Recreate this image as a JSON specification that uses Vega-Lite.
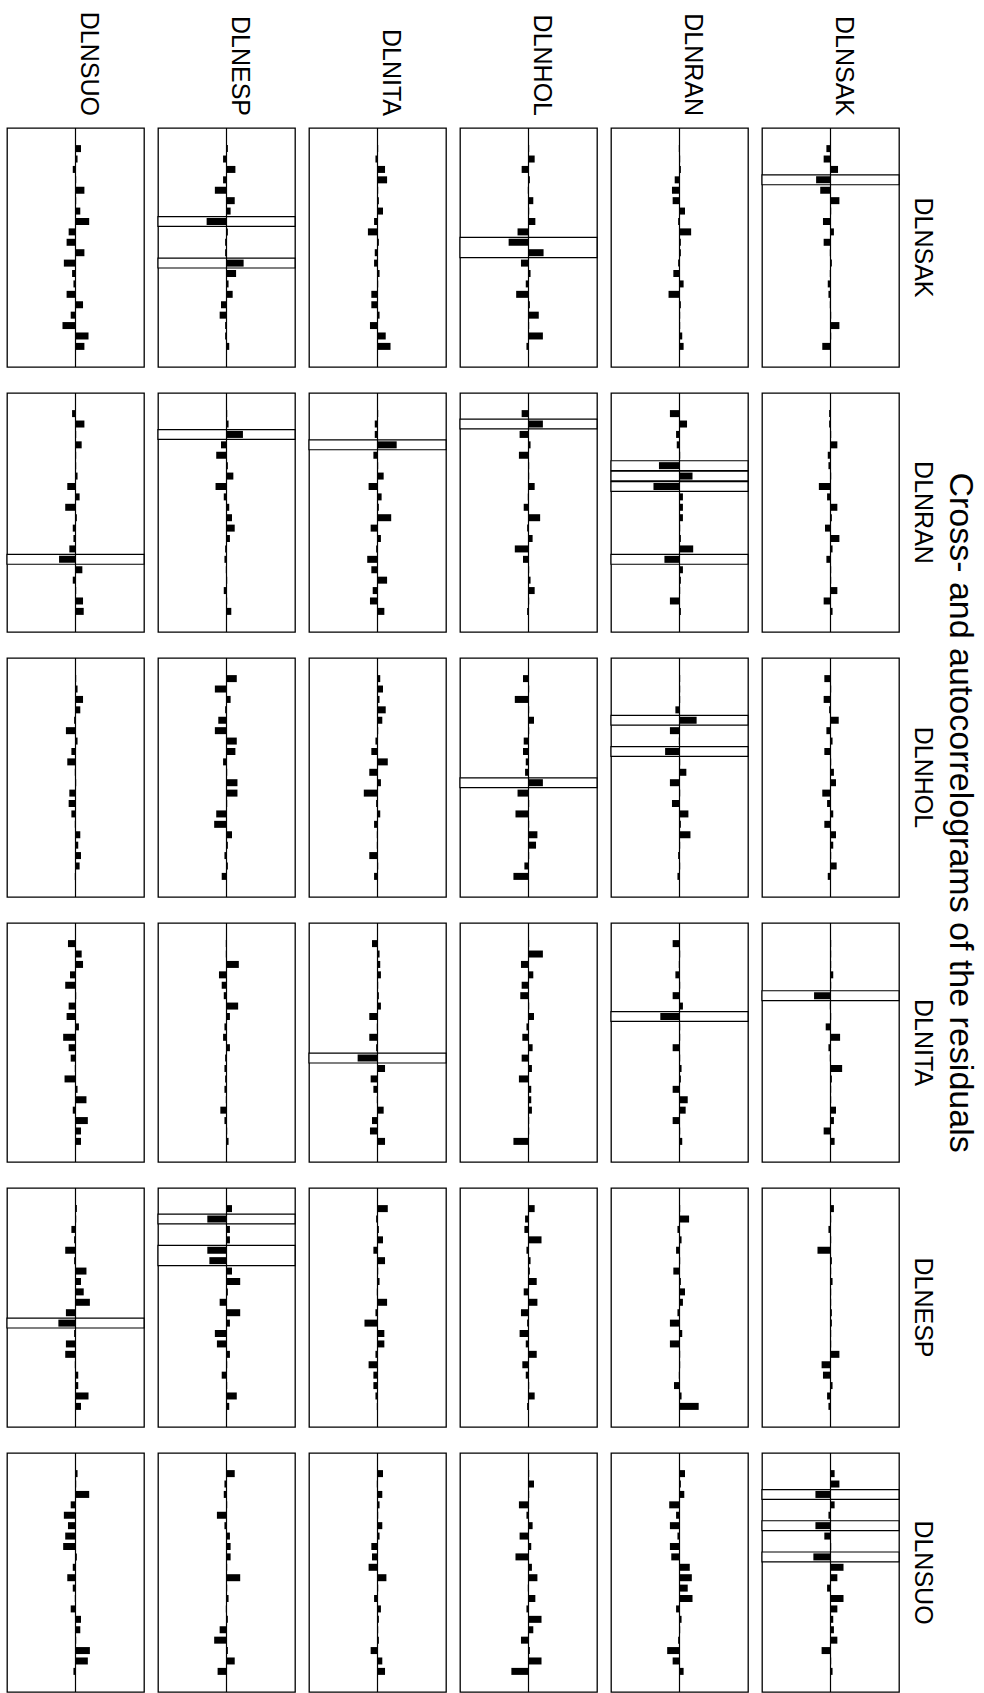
{
"$schema": "https://vega.github.io/schema/vega-lite/v6.json",
"padding": {"left": 5, "top": 11, "right": 0, "bottom": 0},
"background": "white",
"title": {"text": "Cross- and autocorrelograms of the residuals", "orient": "right", "anchor": "middle", "font": "Liberation Sans", "fontSize": 34, "fontWeight": "normal", "color": "black", "offset": 8, "dx": -40},
"data": {"values": [
{"r":"DLNSAK","c":"DLNSUO","lag":1,"v":0.08},{"r":"DLNSAK","c":"DLNSUO","lag":2,"v":0.03},{"r":"DLNSAK","c":"DLNSUO","lag":3,"v":-0.04},{"r":"DLNSAK","c":"DLNSUO","lag":4,"v":0.01},{"r":"DLNSAK","c":"DLNSUO","lag":5,"v":0.13},{"r":"DLNSAK","c":"DLNSUO","lag":6,"v":0.01},{"r":"DLNSAK","c":"DLNSUO","lag":7,"v":0.07},{"r":"DLNSAK","c":"DLNSUO","lag":8,"v":0.2},{"r":"DLNSAK","c":"DLNSUO","lag":9,"v":-0.1},{"r":"DLNSAK","c":"DLNSUO","lag":10,"v":-0.13},{"r":"DLNSAK","c":"DLNSUO","lag":11,"v":0.13},{"r":"DLNSAK","c":"DLNSUO","lag":12,"v":-0.17},{"r":"DLNSAK","c":"DLNSUO","lag":13,"v":-0.05},{"r":"DLNSAK","c":"DLNSUO","lag":14,"v":-0.03},{"r":"DLNSAK","c":"DLNSUO","lag":15,"v":-0.13},{"r":"DLNSAK","c":"DLNSUO","lag":16,"v":0.11},{"r":"DLNSAK","c":"DLNSUO","lag":17,"v":-0.07},{"r":"DLNSAK","c":"DLNSUO","lag":18,"v":-0.19},{"r":"DLNSAK","c":"DLNSUO","lag":19,"v":0.19},{"r":"DLNSAK","c":"DLNSUO","lag":20,"v":0.13},
{"r":"DLNSAK","c":"DLNESP","lag":1,"v":0.02},{"r":"DLNSAK","c":"DLNESP","lag":2,"v":-0.05},{"r":"DLNSAK","c":"DLNESP","lag":3,"v":0.13},{"r":"DLNSAK","c":"DLNESP","lag":4,"v":-0.05},{"r":"DLNSAK","c":"DLNESP","lag":5,"v":-0.17},{"r":"DLNSAK","c":"DLNESP","lag":6,"v":0.12},{"r":"DLNSAK","c":"DLNESP","lag":7,"v":0.06},{"r":"DLNSAK","c":"DLNESP","lag":8,"v":-0.29},{"r":"DLNSAK","c":"DLNESP","lag":9,"v":0.02},{"r":"DLNSAK","c":"DLNESP","lag":10,"v":-0.02},{"r":"DLNSAK","c":"DLNESP","lag":11,"v":-0.02},{"r":"DLNSAK","c":"DLNESP","lag":12,"v":0.25},{"r":"DLNSAK","c":"DLNESP","lag":13,"v":0.14},{"r":"DLNSAK","c":"DLNESP","lag":14,"v":0.03},{"r":"DLNSAK","c":"DLNESP","lag":15,"v":0.09},{"r":"DLNSAK","c":"DLNESP","lag":16,"v":-0.08},{"r":"DLNSAK","c":"DLNESP","lag":17,"v":-0.1},{"r":"DLNSAK","c":"DLNESP","lag":18,"v":-0.02},{"r":"DLNSAK","c":"DLNESP","lag":19,"v":-0.02},{"r":"DLNSAK","c":"DLNESP","lag":20,"v":0.04},
{"r":"DLNSAK","c":"DLNITA","lag":1,"v":0.01},{"r":"DLNSAK","c":"DLNITA","lag":2,"v":-0.03},{"r":"DLNSAK","c":"DLNITA","lag":3,"v":0.11},{"r":"DLNSAK","c":"DLNITA","lag":4,"v":0.14},{"r":"DLNSAK","c":"DLNITA","lag":5,"v":0.01},{"r":"DLNSAK","c":"DLNITA","lag":6,"v":0.02},{"r":"DLNSAK","c":"DLNITA","lag":7,"v":0.08},{"r":"DLNSAK","c":"DLNITA","lag":8,"v":-0.05},{"r":"DLNSAK","c":"DLNITA","lag":9,"v":-0.14},{"r":"DLNSAK","c":"DLNITA","lag":10,"v":0.02},{"r":"DLNSAK","c":"DLNITA","lag":11,"v":-0.04},{"r":"DLNSAK","c":"DLNITA","lag":12,"v":-0.05},{"r":"DLNSAK","c":"DLNITA","lag":13,"v":0.03},{"r":"DLNSAK","c":"DLNITA","lag":14,"v":0.01},{"r":"DLNSAK","c":"DLNITA","lag":15,"v":-0.09},{"r":"DLNSAK","c":"DLNITA","lag":16,"v":-0.09},{"r":"DLNSAK","c":"DLNITA","lag":17,"v":0.03},{"r":"DLNSAK","c":"DLNITA","lag":18,"v":-0.11},{"r":"DLNSAK","c":"DLNITA","lag":19,"v":0.12},{"r":"DLNSAK","c":"DLNITA","lag":20,"v":0.19},
{"r":"DLNSAK","c":"DLNHOL","lag":1,"v":0.01},{"r":"DLNSAK","c":"DLNHOL","lag":2,"v":0.09},{"r":"DLNSAK","c":"DLNHOL","lag":3,"v":-0.1},{"r":"DLNSAK","c":"DLNHOL","lag":4,"v":0.02},{"r":"DLNSAK","c":"DLNHOL","lag":5,"v":-0.01},{"r":"DLNSAK","c":"DLNHOL","lag":6,"v":0.07},{"r":"DLNSAK","c":"DLNHOL","lag":7,"v":0.01},{"r":"DLNSAK","c":"DLNHOL","lag":8,"v":0.1},{"r":"DLNSAK","c":"DLNHOL","lag":9,"v":-0.16},{"r":"DLNSAK","c":"DLNHOL","lag":10,"v":-0.29},{"r":"DLNSAK","c":"DLNHOL","lag":11,"v":0.22},{"r":"DLNSAK","c":"DLNHOL","lag":12,"v":-0.11},{"r":"DLNSAK","c":"DLNHOL","lag":13,"v":0.03},{"r":"DLNSAK","c":"DLNHOL","lag":14,"v":-0.04},{"r":"DLNSAK","c":"DLNHOL","lag":15,"v":-0.18},{"r":"DLNSAK","c":"DLNHOL","lag":16,"v":0.02},{"r":"DLNSAK","c":"DLNHOL","lag":17,"v":0.15},{"r":"DLNSAK","c":"DLNHOL","lag":18,"v":0.01},{"r":"DLNSAK","c":"DLNHOL","lag":19,"v":0.21},{"r":"DLNSAK","c":"DLNHOL","lag":20,"v":-0.03},
{"r":"DLNSAK","c":"DLNRAN","lag":1,"v":-0.01},{"r":"DLNSAK","c":"DLNRAN","lag":2,"v":0.01},{"r":"DLNSAK","c":"DLNRAN","lag":3,"v":0.02},{"r":"DLNSAK","c":"DLNRAN","lag":4,"v":-0.07},{"r":"DLNSAK","c":"DLNRAN","lag":5,"v":-0.11},{"r":"DLNSAK","c":"DLNRAN","lag":6,"v":-0.1},{"r":"DLNSAK","c":"DLNRAN","lag":7,"v":0.08},{"r":"DLNSAK","c":"DLNRAN","lag":8,"v":-0.02},{"r":"DLNSAK","c":"DLNRAN","lag":9,"v":0.17},{"r":"DLNSAK","c":"DLNRAN","lag":10,"v":0.02},{"r":"DLNSAK","c":"DLNRAN","lag":11,"v":0.02},{"r":"DLNSAK","c":"DLNRAN","lag":12,"v":-0.02},{"r":"DLNSAK","c":"DLNRAN","lag":13,"v":-0.09},{"r":"DLNSAK","c":"DLNRAN","lag":14,"v":0.06},{"r":"DLNSAK","c":"DLNRAN","lag":15,"v":-0.16},{"r":"DLNSAK","c":"DLNRAN","lag":16,"v":0.02},{"r":"DLNSAK","c":"DLNRAN","lag":17,"v":0.01},{"r":"DLNSAK","c":"DLNRAN","lag":18,"v":0.01},{"r":"DLNSAK","c":"DLNRAN","lag":19,"v":0.04},{"r":"DLNSAK","c":"DLNRAN","lag":20,"v":0.06},
{"r":"DLNSAK","c":"DLNSAK","lag":1,"v":-0.06},{"r":"DLNSAK","c":"DLNSAK","lag":2,"v":-0.1},{"r":"DLNSAK","c":"DLNSAK","lag":3,"v":0.11},{"r":"DLNSAK","c":"DLNSAK","lag":4,"v":-0.21},{"r":"DLNSAK","c":"DLNSAK","lag":5,"v":-0.15},{"r":"DLNSAK","c":"DLNSAK","lag":6,"v":0.13},{"r":"DLNSAK","c":"DLNSAK","lag":7,"v":0.01},{"r":"DLNSAK","c":"DLNSAK","lag":8,"v":-0.11},{"r":"DLNSAK","c":"DLNSAK","lag":9,"v":0.05},{"r":"DLNSAK","c":"DLNSAK","lag":10,"v":-0.1},{"r":"DLNSAK","c":"DLNSAK","lag":11,"v":-0.01},{"r":"DLNSAK","c":"DLNSAK","lag":12,"v":0.02},{"r":"DLNSAK","c":"DLNSAK","lag":13,"v":-0.01},{"r":"DLNSAK","c":"DLNSAK","lag":14,"v":-0.04},{"r":"DLNSAK","c":"DLNSAK","lag":15,"v":-0.03},{"r":"DLNSAK","c":"DLNSAK","lag":16,"v":-0.01},{"r":"DLNSAK","c":"DLNSAK","lag":17,"v":0.01},{"r":"DLNSAK","c":"DLNSAK","lag":18,"v":0.13},{"r":"DLNSAK","c":"DLNSAK","lag":19,"v":0.01},{"r":"DLNSAK","c":"DLNSAK","lag":20,"v":-0.12},
{"r":"DLNRAN","c":"DLNSUO","lag":1,"v":-0.05},{"r":"DLNRAN","c":"DLNSUO","lag":2,"v":0.13},{"r":"DLNRAN","c":"DLNSUO","lag":3,"v":0.01},{"r":"DLNRAN","c":"DLNSUO","lag":4,"v":0.09},{"r":"DLNRAN","c":"DLNSUO","lag":5,"v":0.01},{"r":"DLNRAN","c":"DLNSUO","lag":6,"v":0.01},{"r":"DLNRAN","c":"DLNSUO","lag":7,"v":0.03},{"r":"DLNRAN","c":"DLNSUO","lag":8,"v":-0.12},{"r":"DLNRAN","c":"DLNSUO","lag":9,"v":0.06},{"r":"DLNRAN","c":"DLNSUO","lag":10,"v":-0.15},{"r":"DLNRAN","c":"DLNSUO","lag":11,"v":0.02},{"r":"DLNRAN","c":"DLNSUO","lag":12,"v":-0.04},{"r":"DLNRAN","c":"DLNSUO","lag":13,"v":-0.03},{"r":"DLNRAN","c":"DLNSUO","lag":14,"v":-0.09},{"r":"DLNRAN","c":"DLNSUO","lag":15,"v":-0.24},{"r":"DLNRAN","c":"DLNSUO","lag":16,"v":0.1},{"r":"DLNRAN","c":"DLNSUO","lag":17,"v":-0.04},{"r":"DLNRAN","c":"DLNSUO","lag":18,"v":0.01},{"r":"DLNRAN","c":"DLNSUO","lag":19,"v":0.11},{"r":"DLNRAN","c":"DLNSUO","lag":20,"v":0.12},
{"r":"DLNRAN","c":"DLNESP","lag":1,"v":0.01},{"r":"DLNRAN","c":"DLNESP","lag":2,"v":0.03},{"r":"DLNRAN","c":"DLNESP","lag":3,"v":0.24},{"r":"DLNRAN","c":"DLNESP","lag":4,"v":-0.08},{"r":"DLNRAN","c":"DLNESP","lag":5,"v":-0.15},{"r":"DLNRAN","c":"DLNESP","lag":6,"v":0.02},{"r":"DLNRAN","c":"DLNESP","lag":7,"v":0.1},{"r":"DLNRAN","c":"DLNESP","lag":8,"v":-0.16},{"r":"DLNRAN","c":"DLNESP","lag":9,"v":-0.04},{"r":"DLNRAN","c":"DLNESP","lag":10,"v":0.04},{"r":"DLNRAN","c":"DLNESP","lag":11,"v":0.08},{"r":"DLNRAN","c":"DLNESP","lag":12,"v":0.12},{"r":"DLNRAN","c":"DLNESP","lag":13,"v":0.05},{"r":"DLNRAN","c":"DLNESP","lag":14,"v":-0.02},{"r":"DLNRAN","c":"DLNESP","lag":15,"v":-0.03},{"r":"DLNRAN","c":"DLNESP","lag":16,"v":-0.01},{"r":"DLNRAN","c":"DLNESP","lag":17,"v":0.01},{"r":"DLNRAN","c":"DLNESP","lag":18,"v":-0.04},{"r":"DLNRAN","c":"DLNESP","lag":19,"v":0.01},{"r":"DLNRAN","c":"DLNESP","lag":20,"v":0.07},
{"r":"DLNRAN","c":"DLNITA","lag":1,"v":0.01},{"r":"DLNRAN","c":"DLNITA","lag":2,"v":-0.04},{"r":"DLNRAN","c":"DLNITA","lag":3,"v":-0.04},{"r":"DLNRAN","c":"DLNITA","lag":4,"v":0.28},{"r":"DLNRAN","c":"DLNITA","lag":5,"v":-0.06},{"r":"DLNRAN","c":"DLNITA","lag":6,"v":0.01},{"r":"DLNRAN","c":"DLNITA","lag":7,"v":0.09},{"r":"DLNRAN","c":"DLNITA","lag":8,"v":-0.13},{"r":"DLNRAN","c":"DLNITA","lag":9,"v":0.06},{"r":"DLNRAN","c":"DLNITA","lag":10,"v":0.02},{"r":"DLNRAN","c":"DLNITA","lag":11,"v":0.2},{"r":"DLNRAN","c":"DLNITA","lag":12,"v":-0.1},{"r":"DLNRAN","c":"DLNITA","lag":13,"v":0.05},{"r":"DLNRAN","c":"DLNITA","lag":14,"v":-0.02},{"r":"DLNRAN","c":"DLNITA","lag":15,"v":-0.15},{"r":"DLNRAN","c":"DLNITA","lag":16,"v":-0.09},{"r":"DLNRAN","c":"DLNITA","lag":17,"v":0.14},{"r":"DLNRAN","c":"DLNITA","lag":18,"v":-0.07},{"r":"DLNRAN","c":"DLNITA","lag":19,"v":-0.11},{"r":"DLNRAN","c":"DLNITA","lag":20,"v":0.1},
{"r":"DLNRAN","c":"DLNHOL","lag":1,"v":-0.1},{"r":"DLNRAN","c":"DLNHOL","lag":2,"v":0.21},{"r":"DLNRAN","c":"DLNHOL","lag":3,"v":-0.13},{"r":"DLNRAN","c":"DLNHOL","lag":4,"v":0.03},{"r":"DLNRAN","c":"DLNHOL","lag":5,"v":-0.14},{"r":"DLNRAN","c":"DLNHOL","lag":6,"v":0.01},{"r":"DLNRAN","c":"DLNHOL","lag":7,"v":0.01},{"r":"DLNRAN","c":"DLNHOL","lag":8,"v":0.09},{"r":"DLNRAN","c":"DLNHOL","lag":9,"v":-0.01},{"r":"DLNRAN","c":"DLNHOL","lag":10,"v":-0.07},{"r":"DLNRAN","c":"DLNHOL","lag":11,"v":0.17},{"r":"DLNRAN","c":"DLNHOL","lag":12,"v":-0.02},{"r":"DLNRAN","c":"DLNHOL","lag":13,"v":0.06},{"r":"DLNRAN","c":"DLNHOL","lag":14,"v":-0.2},{"r":"DLNRAN","c":"DLNHOL","lag":15,"v":-0.08},{"r":"DLNRAN","c":"DLNHOL","lag":16,"v":0.01},{"r":"DLNRAN","c":"DLNHOL","lag":17,"v":0.03},{"r":"DLNRAN","c":"DLNHOL","lag":18,"v":0.09},{"r":"DLNRAN","c":"DLNHOL","lag":19,"v":0.01},{"r":"DLNRAN","c":"DLNHOL","lag":20,"v":-0.02},
{"r":"DLNRAN","c":"DLNRAN","lag":1,"v":-0.14},{"r":"DLNRAN","c":"DLNRAN","lag":2,"v":0.11},{"r":"DLNRAN","c":"DLNRAN","lag":3,"v":-0.05},{"r":"DLNRAN","c":"DLNRAN","lag":4,"v":-0.04},{"r":"DLNRAN","c":"DLNRAN","lag":5,"v":0.01},{"r":"DLNRAN","c":"DLNRAN","lag":6,"v":-0.3},{"r":"DLNRAN","c":"DLNRAN","lag":7,"v":0.19},{"r":"DLNRAN","c":"DLNRAN","lag":8,"v":-0.38},{"r":"DLNRAN","c":"DLNRAN","lag":9,"v":0.05},{"r":"DLNRAN","c":"DLNRAN","lag":10,"v":0.05},{"r":"DLNRAN","c":"DLNRAN","lag":11,"v":0.05},{"r":"DLNRAN","c":"DLNRAN","lag":12,"v":0.01},{"r":"DLNRAN","c":"DLNRAN","lag":13,"v":0.02},{"r":"DLNRAN","c":"DLNRAN","lag":14,"v":0.2},{"r":"DLNRAN","c":"DLNRAN","lag":15,"v":-0.22},{"r":"DLNRAN","c":"DLNRAN","lag":16,"v":0.05},{"r":"DLNRAN","c":"DLNRAN","lag":17,"v":0.02},{"r":"DLNRAN","c":"DLNRAN","lag":18,"v":0.01},{"r":"DLNRAN","c":"DLNRAN","lag":19,"v":-0.14},{"r":"DLNRAN","c":"DLNRAN","lag":20,"v":0.02},
{"r":"DLNRAN","c":"DLNSAK","lag":1,"v":-0.02},{"r":"DLNRAN","c":"DLNSAK","lag":2,"v":-0.02},{"r":"DLNRAN","c":"DLNSAK","lag":3,"v":0.01},{"r":"DLNRAN","c":"DLNSAK","lag":4,"v":0.1},{"r":"DLNRAN","c":"DLNSAK","lag":5,"v":-0.04},{"r":"DLNRAN","c":"DLNSAK","lag":6,"v":-0.03},{"r":"DLNRAN","c":"DLNSAK","lag":7,"v":0.01},{"r":"DLNRAN","c":"DLNSAK","lag":8,"v":-0.17},{"r":"DLNRAN","c":"DLNSAK","lag":9,"v":-0.05},{"r":"DLNRAN","c":"DLNSAK","lag":10,"v":0.1},{"r":"DLNRAN","c":"DLNSAK","lag":11,"v":0.02},{"r":"DLNRAN","c":"DLNSAK","lag":12,"v":-0.08},{"r":"DLNRAN","c":"DLNSAK","lag":13,"v":0.13},{"r":"DLNRAN","c":"DLNSAK","lag":14,"v":0.03},{"r":"DLNRAN","c":"DLNSAK","lag":15,"v":-0.06},{"r":"DLNRAN","c":"DLNSAK","lag":16,"v":0.01},{"r":"DLNRAN","c":"DLNSAK","lag":17,"v":0.01},{"r":"DLNRAN","c":"DLNSAK","lag":18,"v":0.1},{"r":"DLNRAN","c":"DLNSAK","lag":19,"v":-0.1},{"r":"DLNRAN","c":"DLNSAK","lag":20,"v":0.03},
{"r":"DLNHOL","c":"DLNSUO","lag":1,"v":0.01},{"r":"DLNHOL","c":"DLNSUO","lag":2,"v":0.03},{"r":"DLNHOL","c":"DLNSUO","lag":3,"v":0.11},{"r":"DLNHOL","c":"DLNSUO","lag":4,"v":0.07},{"r":"DLNHOL","c":"DLNSUO","lag":5,"v":-0.02},{"r":"DLNHOL","c":"DLNSUO","lag":6,"v":-0.14},{"r":"DLNHOL","c":"DLNSUO","lag":7,"v":0.03},{"r":"DLNHOL","c":"DLNSUO","lag":8,"v":-0.06},{"r":"DLNHOL","c":"DLNSUO","lag":9,"v":-0.12},{"r":"DLNHOL","c":"DLNSUO","lag":10,"v":-0.01},{"r":"DLNHOL","c":"DLNSUO","lag":11,"v":0.01},{"r":"DLNHOL","c":"DLNSUO","lag":12,"v":-0.09},{"r":"DLNHOL","c":"DLNSUO","lag":13,"v":-0.1},{"r":"DLNHOL","c":"DLNSUO","lag":14,"v":-0.06},{"r":"DLNHOL","c":"DLNSUO","lag":15,"v":-0.01},{"r":"DLNHOL","c":"DLNSUO","lag":16,"v":0.07},{"r":"DLNHOL","c":"DLNSUO","lag":17,"v":0.04},{"r":"DLNHOL","c":"DLNSUO","lag":18,"v":0.08},{"r":"DLNHOL","c":"DLNSUO","lag":19,"v":0.06},{"r":"DLNHOL","c":"DLNSUO","lag":20,"v":-0.01},
{"r":"DLNHOL","c":"DLNESP","lag":1,"v":0.15},{"r":"DLNHOL","c":"DLNESP","lag":2,"v":-0.17},{"r":"DLNHOL","c":"DLNESP","lag":3,"v":0.06},{"r":"DLNHOL","c":"DLNESP","lag":4,"v":-0.02},{"r":"DLNHOL","c":"DLNESP","lag":5,"v":-0.12},{"r":"DLNHOL","c":"DLNESP","lag":6,"v":-0.17},{"r":"DLNHOL","c":"DLNESP","lag":7,"v":0.15},{"r":"DLNHOL","c":"DLNESP","lag":8,"v":0.13},{"r":"DLNHOL","c":"DLNESP","lag":9,"v":-0.05},{"r":"DLNHOL","c":"DLNESP","lag":10,"v":0.01},{"r":"DLNHOL","c":"DLNESP","lag":11,"v":0.16},{"r":"DLNHOL","c":"DLNESP","lag":12,"v":0.16},{"r":"DLNHOL","c":"DLNESP","lag":13,"v":0.01},{"r":"DLNHOL","c":"DLNESP","lag":14,"v":-0.15},{"r":"DLNHOL","c":"DLNESP","lag":15,"v":-0.18},{"r":"DLNHOL","c":"DLNESP","lag":16,"v":0.08},{"r":"DLNHOL","c":"DLNESP","lag":17,"v":0.02},{"r":"DLNHOL","c":"DLNESP","lag":18,"v":-0.03},{"r":"DLNHOL","c":"DLNESP","lag":19,"v":0.02},{"r":"DLNHOL","c":"DLNESP","lag":20,"v":-0.07},
{"r":"DLNHOL","c":"DLNITA","lag":1,"v":0.04},{"r":"DLNHOL","c":"DLNITA","lag":2,"v":0.08},{"r":"DLNHOL","c":"DLNITA","lag":3,"v":0.03},{"r":"DLNHOL","c":"DLNITA","lag":4,"v":0.12},{"r":"DLNHOL","c":"DLNITA","lag":5,"v":0.07},{"r":"DLNHOL","c":"DLNITA","lag":6,"v":0.01},{"r":"DLNHOL","c":"DLNITA","lag":7,"v":-0.03},{"r":"DLNHOL","c":"DLNITA","lag":8,"v":-0.09},{"r":"DLNHOL","c":"DLNITA","lag":9,"v":0.15},{"r":"DLNHOL","c":"DLNITA","lag":10,"v":-0.12},{"r":"DLNHOL","c":"DLNITA","lag":11,"v":0.05},{"r":"DLNHOL","c":"DLNITA","lag":12,"v":-0.2},{"r":"DLNHOL","c":"DLNITA","lag":13,"v":-0.02},{"r":"DLNHOL","c":"DLNITA","lag":14,"v":0.04},{"r":"DLNHOL","c":"DLNITA","lag":15,"v":-0.05},{"r":"DLNHOL","c":"DLNITA","lag":16,"v":-0.01},{"r":"DLNHOL","c":"DLNITA","lag":17,"v":-0.01},{"r":"DLNHOL","c":"DLNITA","lag":18,"v":-0.12},{"r":"DLNHOL","c":"DLNITA","lag":19,"v":0.01},{"r":"DLNHOL","c":"DLNITA","lag":20,"v":-0.05},
{"r":"DLNHOL","c":"DLNHOL","lag":1,"v":-0.08},{"r":"DLNHOL","c":"DLNHOL","lag":2,"v":0.01},{"r":"DLNHOL","c":"DLNHOL","lag":3,"v":-0.2},{"r":"DLNHOL","c":"DLNHOL","lag":4,"v":0.01},{"r":"DLNHOL","c":"DLNHOL","lag":5,"v":0.08},{"r":"DLNHOL","c":"DLNHOL","lag":6,"v":0.01},{"r":"DLNHOL","c":"DLNHOL","lag":7,"v":-0.07},{"r":"DLNHOL","c":"DLNHOL","lag":8,"v":-0.08},{"r":"DLNHOL","c":"DLNHOL","lag":9,"v":-0.04},{"r":"DLNHOL","c":"DLNHOL","lag":10,"v":-0.05},{"r":"DLNHOL","c":"DLNHOL","lag":11,"v":0.21},{"r":"DLNHOL","c":"DLNHOL","lag":12,"v":-0.16},{"r":"DLNHOL","c":"DLNHOL","lag":13,"v":0.01},{"r":"DLNHOL","c":"DLNHOL","lag":14,"v":-0.19},{"r":"DLNHOL","c":"DLNHOL","lag":15,"v":0.01},{"r":"DLNHOL","c":"DLNHOL","lag":16,"v":0.13},{"r":"DLNHOL","c":"DLNHOL","lag":17,"v":0.11},{"r":"DLNHOL","c":"DLNHOL","lag":18,"v":0.01},{"r":"DLNHOL","c":"DLNHOL","lag":19,"v":-0.06},{"r":"DLNHOL","c":"DLNHOL","lag":20,"v":-0.22},
{"r":"DLNHOL","c":"DLNRAN","lag":1,"v":0.01},{"r":"DLNHOL","c":"DLNRAN","lag":2,"v":0.01},{"r":"DLNHOL","c":"DLNRAN","lag":3,"v":0.01},{"r":"DLNHOL","c":"DLNRAN","lag":4,"v":-0.06},{"r":"DLNHOL","c":"DLNRAN","lag":5,"v":0.25},{"r":"DLNHOL","c":"DLNRAN","lag":6,"v":-0.14},{"r":"DLNHOL","c":"DLNRAN","lag":7,"v":-0.01},{"r":"DLNHOL","c":"DLNRAN","lag":8,"v":-0.21},{"r":"DLNHOL","c":"DLNRAN","lag":9,"v":0.01},{"r":"DLNHOL","c":"DLNRAN","lag":10,"v":0.1},{"r":"DLNHOL","c":"DLNRAN","lag":11,"v":-0.14},{"r":"DLNHOL","c":"DLNRAN","lag":12,"v":0.01},{"r":"DLNHOL","c":"DLNRAN","lag":13,"v":-0.11},{"r":"DLNHOL","c":"DLNRAN","lag":14,"v":0.13},{"r":"DLNHOL","c":"DLNRAN","lag":15,"v":0.02},{"r":"DLNHOL","c":"DLNRAN","lag":16,"v":0.16},{"r":"DLNHOL","c":"DLNRAN","lag":17,"v":0.01},{"r":"DLNHOL","c":"DLNRAN","lag":18,"v":-0.02},{"r":"DLNHOL","c":"DLNRAN","lag":19,"v":0.01},{"r":"DLNHOL","c":"DLNRAN","lag":20,"v":-0.03},
{"r":"DLNHOL","c":"DLNSAK","lag":1,"v":-0.09},{"r":"DLNHOL","c":"DLNSAK","lag":2,"v":0.01},{"r":"DLNHOL","c":"DLNSAK","lag":3,"v":-0.1},{"r":"DLNHOL","c":"DLNSAK","lag":4,"v":-0.02},{"r":"DLNHOL","c":"DLNSAK","lag":5,"v":0.12},{"r":"DLNHOL","c":"DLNSAK","lag":6,"v":-0.06},{"r":"DLNHOL","c":"DLNSAK","lag":7,"v":0.03},{"r":"DLNHOL","c":"DLNSAK","lag":8,"v":-0.09},{"r":"DLNHOL","c":"DLNSAK","lag":9,"v":0.01},{"r":"DLNHOL","c":"DLNSAK","lag":10,"v":0.05},{"r":"DLNHOL","c":"DLNSAK","lag":11,"v":0.08},{"r":"DLNHOL","c":"DLNSAK","lag":12,"v":-0.12},{"r":"DLNHOL","c":"DLNSAK","lag":13,"v":-0.05},{"r":"DLNHOL","c":"DLNSAK","lag":14,"v":0.04},{"r":"DLNHOL","c":"DLNSAK","lag":15,"v":-0.09},{"r":"DLNHOL","c":"DLNSAK","lag":16,"v":0.08},{"r":"DLNHOL","c":"DLNSAK","lag":17,"v":0.04},{"r":"DLNHOL","c":"DLNSAK","lag":18,"v":0.01},{"r":"DLNHOL","c":"DLNSAK","lag":19,"v":0.09},{"r":"DLNHOL","c":"DLNSAK","lag":20,"v":-0.04},
{"r":"DLNITA","c":"DLNSUO","lag":1,"v":-0.11},{"r":"DLNITA","c":"DLNSUO","lag":2,"v":0.09},{"r":"DLNITA","c":"DLNSUO","lag":3,"v":0.11},{"r":"DLNITA","c":"DLNSUO","lag":4,"v":-0.08},{"r":"DLNITA","c":"DLNSUO","lag":5,"v":-0.15},{"r":"DLNITA","c":"DLNSUO","lag":6,"v":0.01},{"r":"DLNITA","c":"DLNSUO","lag":7,"v":-0.1},{"r":"DLNITA","c":"DLNSUO","lag":8,"v":-0.13},{"r":"DLNITA","c":"DLNSUO","lag":9,"v":0.05},{"r":"DLNITA","c":"DLNSUO","lag":10,"v":-0.18},{"r":"DLNITA","c":"DLNSUO","lag":11,"v":-0.1},{"r":"DLNITA","c":"DLNSUO","lag":12,"v":-0.07},{"r":"DLNITA","c":"DLNSUO","lag":13,"v":-0.01},{"r":"DLNITA","c":"DLNSUO","lag":14,"v":-0.16},{"r":"DLNITA","c":"DLNSUO","lag":15,"v":0.03},{"r":"DLNITA","c":"DLNSUO","lag":16,"v":0.16},{"r":"DLNITA","c":"DLNSUO","lag":17,"v":-0.04},{"r":"DLNITA","c":"DLNSUO","lag":18,"v":0.18},{"r":"DLNITA","c":"DLNSUO","lag":19,"v":0.08},{"r":"DLNITA","c":"DLNSUO","lag":20,"v":0.08},
{"r":"DLNITA","c":"DLNESP","lag":1,"v":-0.01},{"r":"DLNITA","c":"DLNESP","lag":2,"v":-0.01},{"r":"DLNITA","c":"DLNESP","lag":3,"v":0.18},{"r":"DLNITA","c":"DLNESP","lag":4,"v":-0.11},{"r":"DLNITA","c":"DLNESP","lag":5,"v":-0.07},{"r":"DLNITA","c":"DLNESP","lag":6,"v":-0.04},{"r":"DLNITA","c":"DLNESP","lag":7,"v":0.17},{"r":"DLNITA","c":"DLNESP","lag":8,"v":0.05},{"r":"DLNITA","c":"DLNESP","lag":9,"v":-0.03},{"r":"DLNITA","c":"DLNESP","lag":10,"v":-0.05},{"r":"DLNITA","c":"DLNESP","lag":11,"v":0.05},{"r":"DLNITA","c":"DLNESP","lag":12,"v":-0.02},{"r":"DLNITA","c":"DLNESP","lag":13,"v":-0.03},{"r":"DLNITA","c":"DLNESP","lag":14,"v":-0.02},{"r":"DLNITA","c":"DLNESP","lag":15,"v":-0.03},{"r":"DLNITA","c":"DLNESP","lag":16,"v":-0.01},{"r":"DLNITA","c":"DLNESP","lag":17,"v":-0.09},{"r":"DLNITA","c":"DLNESP","lag":18,"v":-0.03},{"r":"DLNITA","c":"DLNESP","lag":19,"v":0.01},{"r":"DLNITA","c":"DLNESP","lag":20,"v":0.03},
{"r":"DLNITA","c":"DLNITA","lag":1,"v":-0.08},{"r":"DLNITA","c":"DLNITA","lag":2,"v":0.03},{"r":"DLNITA","c":"DLNITA","lag":3,"v":0.04},{"r":"DLNITA","c":"DLNITA","lag":4,"v":0.05},{"r":"DLNITA","c":"DLNITA","lag":5,"v":0.01},{"r":"DLNITA","c":"DLNITA","lag":6,"v":0.02},{"r":"DLNITA","c":"DLNITA","lag":7,"v":0.05},{"r":"DLNITA","c":"DLNITA","lag":8,"v":-0.12},{"r":"DLNITA","c":"DLNITA","lag":9,"v":-0.01},{"r":"DLNITA","c":"DLNITA","lag":10,"v":-0.12},{"r":"DLNITA","c":"DLNITA","lag":11,"v":-0.02},{"r":"DLNITA","c":"DLNITA","lag":12,"v":-0.29},{"r":"DLNITA","c":"DLNITA","lag":13,"v":0.11},{"r":"DLNITA","c":"DLNITA","lag":14,"v":-0.1},{"r":"DLNITA","c":"DLNITA","lag":15,"v":-0.06},{"r":"DLNITA","c":"DLNITA","lag":16,"v":-0.01},{"r":"DLNITA","c":"DLNITA","lag":17,"v":0.09},{"r":"DLNITA","c":"DLNITA","lag":18,"v":-0.08},{"r":"DLNITA","c":"DLNITA","lag":19,"v":-0.11},{"r":"DLNITA","c":"DLNITA","lag":20,"v":0.11},
{"r":"DLNITA","c":"DLNHOL","lag":1,"v":0.01},{"r":"DLNITA","c":"DLNHOL","lag":2,"v":0.21},{"r":"DLNITA","c":"DLNHOL","lag":3,"v":-0.11},{"r":"DLNITA","c":"DLNHOL","lag":4,"v":0.07},{"r":"DLNITA","c":"DLNHOL","lag":5,"v":-0.1},{"r":"DLNITA","c":"DLNHOL","lag":6,"v":-0.12},{"r":"DLNITA","c":"DLNHOL","lag":7,"v":0.01},{"r":"DLNITA","c":"DLNHOL","lag":8,"v":0.08},{"r":"DLNITA","c":"DLNHOL","lag":9,"v":-0.03},{"r":"DLNITA","c":"DLNHOL","lag":10,"v":-0.09},{"r":"DLNITA","c":"DLNHOL","lag":11,"v":0.06},{"r":"DLNITA","c":"DLNHOL","lag":12,"v":-0.1},{"r":"DLNITA","c":"DLNHOL","lag":13,"v":0.05},{"r":"DLNITA","c":"DLNHOL","lag":14,"v":-0.14},{"r":"DLNITA","c":"DLNHOL","lag":15,"v":0.04},{"r":"DLNITA","c":"DLNHOL","lag":16,"v":0.04},{"r":"DLNITA","c":"DLNHOL","lag":17,"v":0.05},{"r":"DLNITA","c":"DLNHOL","lag":18,"v":0.01},{"r":"DLNITA","c":"DLNHOL","lag":19,"v":0.01},{"r":"DLNITA","c":"DLNHOL","lag":20,"v":-0.22},
{"r":"DLNITA","c":"DLNRAN","lag":1,"v":-0.1},{"r":"DLNITA","c":"DLNRAN","lag":2,"v":0.01},{"r":"DLNITA","c":"DLNRAN","lag":3,"v":-0.01},{"r":"DLNITA","c":"DLNRAN","lag":4,"v":-0.06},{"r":"DLNITA","c":"DLNRAN","lag":5,"v":0.01},{"r":"DLNITA","c":"DLNRAN","lag":6,"v":-0.1},{"r":"DLNITA","c":"DLNRAN","lag":7,"v":0.05},{"r":"DLNITA","c":"DLNRAN","lag":8,"v":-0.28},{"r":"DLNITA","c":"DLNRAN","lag":9,"v":0.01},{"r":"DLNITA","c":"DLNRAN","lag":10,"v":0.01},{"r":"DLNITA","c":"DLNRAN","lag":11,"v":-0.1},{"r":"DLNITA","c":"DLNRAN","lag":12,"v":0.01},{"r":"DLNITA","c":"DLNRAN","lag":13,"v":0.03},{"r":"DLNITA","c":"DLNRAN","lag":14,"v":0.02},{"r":"DLNITA","c":"DLNRAN","lag":15,"v":-0.1},{"r":"DLNITA","c":"DLNRAN","lag":16,"v":0.12},{"r":"DLNITA","c":"DLNRAN","lag":17,"v":0.09},{"r":"DLNITA","c":"DLNRAN","lag":18,"v":-0.1},{"r":"DLNITA","c":"DLNRAN","lag":19,"v":0.01},{"r":"DLNITA","c":"DLNRAN","lag":20,"v":0.04},
{"r":"DLNITA","c":"DLNSAK","lag":1,"v":0.01},{"r":"DLNITA","c":"DLNSAK","lag":2,"v":0.01},{"r":"DLNITA","c":"DLNSAK","lag":3,"v":0.01},{"r":"DLNITA","c":"DLNSAK","lag":4,"v":0.04},{"r":"DLNITA","c":"DLNSAK","lag":5,"v":0.01},{"r":"DLNITA","c":"DLNSAK","lag":6,"v":-0.24},{"r":"DLNITA","c":"DLNSAK","lag":7,"v":-0.01},{"r":"DLNITA","c":"DLNSAK","lag":8,"v":0.01},{"r":"DLNITA","c":"DLNSAK","lag":9,"v":-0.07},{"r":"DLNITA","c":"DLNSAK","lag":10,"v":0.14},{"r":"DLNITA","c":"DLNSAK","lag":11,"v":-0.03},{"r":"DLNITA","c":"DLNSAK","lag":12,"v":-0.01},{"r":"DLNITA","c":"DLNSAK","lag":13,"v":0.17},{"r":"DLNITA","c":"DLNSAK","lag":14,"v":0.02},{"r":"DLNITA","c":"DLNSAK","lag":15,"v":0.01},{"r":"DLNITA","c":"DLNSAK","lag":16,"v":0.01},{"r":"DLNITA","c":"DLNSAK","lag":17,"v":0.08},{"r":"DLNITA","c":"DLNSAK","lag":18,"v":0.05},{"r":"DLNITA","c":"DLNSAK","lag":19,"v":-0.1},{"r":"DLNITA","c":"DLNSAK","lag":20,"v":0.06},
{"r":"DLNESP","c":"DLNSUO","lag":1,"v":0.02},{"r":"DLNESP","c":"DLNSUO","lag":2,"v":0.01},{"r":"DLNESP","c":"DLNSUO","lag":3,"v":-0.06},{"r":"DLNESP","c":"DLNSUO","lag":4,"v":-0.02},{"r":"DLNESP","c":"DLNSUO","lag":5,"v":-0.15},{"r":"DLNESP","c":"DLNSUO","lag":6,"v":-0.02},{"r":"DLNESP","c":"DLNSUO","lag":7,"v":0.16},{"r":"DLNESP","c":"DLNSUO","lag":8,"v":0.08},{"r":"DLNESP","c":"DLNSUO","lag":9,"v":0.12},{"r":"DLNESP","c":"DLNSUO","lag":10,"v":0.21},{"r":"DLNESP","c":"DLNSUO","lag":11,"v":-0.14},{"r":"DLNESP","c":"DLNSUO","lag":12,"v":-0.25},{"r":"DLNESP","c":"DLNSUO","lag":13,"v":-0.02},{"r":"DLNESP","c":"DLNSUO","lag":14,"v":-0.14},{"r":"DLNESP","c":"DLNSUO","lag":15,"v":-0.15},{"r":"DLNESP","c":"DLNSUO","lag":16,"v":-0.01},{"r":"DLNESP","c":"DLNSUO","lag":17,"v":0.04},{"r":"DLNESP","c":"DLNSUO","lag":18,"v":0.04},{"r":"DLNESP","c":"DLNSUO","lag":19,"v":0.19},{"r":"DLNESP","c":"DLNSUO","lag":20,"v":0.08},
{"r":"DLNESP","c":"DLNESP","lag":1,"v":0.08},{"r":"DLNESP","c":"DLNESP","lag":2,"v":-0.28},{"r":"DLNESP","c":"DLNESP","lag":3,"v":0.05},{"r":"DLNESP","c":"DLNESP","lag":4,"v":0.05},{"r":"DLNESP","c":"DLNESP","lag":5,"v":-0.28},{"r":"DLNESP","c":"DLNESP","lag":6,"v":-0.25},{"r":"DLNESP","c":"DLNESP","lag":7,"v":0.08},{"r":"DLNESP","c":"DLNESP","lag":8,"v":0.2},{"r":"DLNESP","c":"DLNESP","lag":9,"v":0.02},{"r":"DLNESP","c":"DLNESP","lag":10,"v":-0.1},{"r":"DLNESP","c":"DLNESP","lag":11,"v":0.2},{"r":"DLNESP","c":"DLNESP","lag":12,"v":0.05},{"r":"DLNESP","c":"DLNESP","lag":13,"v":-0.17},{"r":"DLNESP","c":"DLNESP","lag":14,"v":-0.14},{"r":"DLNESP","c":"DLNESP","lag":15,"v":0.05},{"r":"DLNESP","c":"DLNESP","lag":16,"v":0.01},{"r":"DLNESP","c":"DLNESP","lag":17,"v":-0.07},{"r":"DLNESP","c":"DLNESP","lag":18,"v":0.01},{"r":"DLNESP","c":"DLNESP","lag":19,"v":0.15},{"r":"DLNESP","c":"DLNESP","lag":20,"v":0.04},
{"r":"DLNESP","c":"DLNITA","lag":1,"v":0.15},{"r":"DLNESP","c":"DLNITA","lag":2,"v":-0.02},{"r":"DLNESP","c":"DLNITA","lag":3,"v":0.02},{"r":"DLNESP","c":"DLNITA","lag":4,"v":0.08},{"r":"DLNESP","c":"DLNITA","lag":5,"v":-0.06},{"r":"DLNESP","c":"DLNITA","lag":6,"v":0.11},{"r":"DLNESP","c":"DLNITA","lag":7,"v":0.01},{"r":"DLNESP","c":"DLNITA","lag":8,"v":0.03},{"r":"DLNESP","c":"DLNITA","lag":9,"v":-0.01},{"r":"DLNESP","c":"DLNITA","lag":10,"v":0.14},{"r":"DLNESP","c":"DLNITA","lag":11,"v":-0.03},{"r":"DLNESP","c":"DLNITA","lag":12,"v":-0.19},{"r":"DLNESP","c":"DLNITA","lag":13,"v":0.1},{"r":"DLNESP","c":"DLNITA","lag":14,"v":0.1},{"r":"DLNESP","c":"DLNITA","lag":15,"v":-0.03},{"r":"DLNESP","c":"DLNITA","lag":16,"v":-0.13},{"r":"DLNESP","c":"DLNITA","lag":17,"v":-0.06},{"r":"DLNESP","c":"DLNITA","lag":18,"v":-0.06},{"r":"DLNESP","c":"DLNITA","lag":19,"v":-0.03},{"r":"DLNESP","c":"DLNITA","lag":20,"v":-0.01},
{"r":"DLNESP","c":"DLNHOL","lag":1,"v":0.09},{"r":"DLNESP","c":"DLNHOL","lag":2,"v":-0.05},{"r":"DLNESP","c":"DLNHOL","lag":3,"v":-0.06},{"r":"DLNESP","c":"DLNHOL","lag":4,"v":0.19},{"r":"DLNESP","c":"DLNHOL","lag":5,"v":-0.03},{"r":"DLNESP","c":"DLNHOL","lag":6,"v":0.03},{"r":"DLNESP","c":"DLNHOL","lag":7,"v":0.02},{"r":"DLNESP","c":"DLNHOL","lag":8,"v":0.12},{"r":"DLNESP","c":"DLNHOL","lag":9,"v":-0.07},{"r":"DLNESP","c":"DLNHOL","lag":10,"v":0.13},{"r":"DLNESP","c":"DLNHOL","lag":11,"v":-0.11},{"r":"DLNESP","c":"DLNHOL","lag":12,"v":-0.02},{"r":"DLNESP","c":"DLNHOL","lag":13,"v":-0.13},{"r":"DLNESP","c":"DLNHOL","lag":14,"v":-0.04},{"r":"DLNESP","c":"DLNHOL","lag":15,"v":0.12},{"r":"DLNESP","c":"DLNHOL","lag":16,"v":-0.09},{"r":"DLNESP","c":"DLNHOL","lag":17,"v":-0.04},{"r":"DLNESP","c":"DLNHOL","lag":18,"v":0.01},{"r":"DLNESP","c":"DLNHOL","lag":19,"v":0.09},{"r":"DLNESP","c":"DLNHOL","lag":20,"v":-0.02},
{"r":"DLNESP","c":"DLNRAN","lag":1,"v":0.01},{"r":"DLNESP","c":"DLNRAN","lag":2,"v":0.14},{"r":"DLNESP","c":"DLNRAN","lag":3,"v":-0.03},{"r":"DLNESP","c":"DLNRAN","lag":4,"v":0.03},{"r":"DLNESP","c":"DLNRAN","lag":5,"v":-0.05},{"r":"DLNESP","c":"DLNRAN","lag":6,"v":0.01},{"r":"DLNESP","c":"DLNRAN","lag":7,"v":-0.09},{"r":"DLNESP","c":"DLNRAN","lag":8,"v":0.02},{"r":"DLNESP","c":"DLNRAN","lag":9,"v":0.08},{"r":"DLNESP","c":"DLNRAN","lag":10,"v":0.05},{"r":"DLNESP","c":"DLNRAN","lag":11,"v":-0.03},{"r":"DLNESP","c":"DLNRAN","lag":12,"v":-0.14},{"r":"DLNESP","c":"DLNRAN","lag":13,"v":0.04},{"r":"DLNESP","c":"DLNRAN","lag":14,"v":-0.14},{"r":"DLNESP","c":"DLNRAN","lag":15,"v":0.01},{"r":"DLNESP","c":"DLNRAN","lag":16,"v":0.01},{"r":"DLNESP","c":"DLNRAN","lag":17,"v":-0.01},{"r":"DLNESP","c":"DLNRAN","lag":18,"v":-0.08},{"r":"DLNESP","c":"DLNRAN","lag":19,"v":0.03},{"r":"DLNESP","c":"DLNRAN","lag":20,"v":0.28},
{"r":"DLNESP","c":"DLNSAK","lag":1,"v":0.05},{"r":"DLNESP","c":"DLNSAK","lag":2,"v":0.01},{"r":"DLNESP","c":"DLNSAK","lag":3,"v":-0.03},{"r":"DLNESP","c":"DLNSAK","lag":4,"v":0.01},{"r":"DLNESP","c":"DLNSAK","lag":5,"v":-0.19},{"r":"DLNESP","c":"DLNSAK","lag":6,"v":0.02},{"r":"DLNESP","c":"DLNSAK","lag":7,"v":0.01},{"r":"DLNESP","c":"DLNSAK","lag":8,"v":0.03},{"r":"DLNESP","c":"DLNSAK","lag":9,"v":0.01},{"r":"DLNESP","c":"DLNSAK","lag":10,"v":0.01},{"r":"DLNESP","c":"DLNSAK","lag":11,"v":0.02},{"r":"DLNESP","c":"DLNSAK","lag":12,"v":0.02},{"r":"DLNESP","c":"DLNSAK","lag":13,"v":0.01},{"r":"DLNESP","c":"DLNSAK","lag":14,"v":0.01},{"r":"DLNESP","c":"DLNSAK","lag":15,"v":0.13},{"r":"DLNESP","c":"DLNSAK","lag":16,"v":-0.13},{"r":"DLNESP","c":"DLNSAK","lag":17,"v":-0.11},{"r":"DLNESP","c":"DLNSAK","lag":18,"v":0.03},{"r":"DLNESP","c":"DLNSAK","lag":19,"v":-0.05},{"r":"DLNESP","c":"DLNSAK","lag":20,"v":-0.03},
{"r":"DLNSUO","c":"DLNSUO","lag":1,"v":0.03},{"r":"DLNSUO","c":"DLNSUO","lag":2,"v":0.01},{"r":"DLNSUO","c":"DLNSUO","lag":3,"v":0.2},{"r":"DLNSUO","c":"DLNSUO","lag":4,"v":-0.07},{"r":"DLNSUO","c":"DLNSUO","lag":5,"v":-0.17},{"r":"DLNSUO","c":"DLNSUO","lag":6,"v":-0.11},{"r":"DLNSUO","c":"DLNSUO","lag":7,"v":-0.15},{"r":"DLNSUO","c":"DLNSUO","lag":8,"v":-0.18},{"r":"DLNSUO","c":"DLNSUO","lag":9,"v":0.02},{"r":"DLNSUO","c":"DLNSUO","lag":10,"v":-0.04},{"r":"DLNSUO","c":"DLNSUO","lag":11,"v":-0.12},{"r":"DLNSUO","c":"DLNSUO","lag":12,"v":-0.04},{"r":"DLNSUO","c":"DLNSUO","lag":13,"v":-0.01},{"r":"DLNSUO","c":"DLNSUO","lag":14,"v":-0.07},{"r":"DLNSUO","c":"DLNSUO","lag":15,"v":0.08},{"r":"DLNSUO","c":"DLNSUO","lag":16,"v":0.07},{"r":"DLNSUO","c":"DLNSUO","lag":17,"v":0.01},{"r":"DLNSUO","c":"DLNSUO","lag":18,"v":0.21},{"r":"DLNSUO","c":"DLNSUO","lag":19,"v":0.18},{"r":"DLNSUO","c":"DLNSUO","lag":20,"v":-0.03},
{"r":"DLNSUO","c":"DLNESP","lag":1,"v":0.12},{"r":"DLNSUO","c":"DLNESP","lag":2,"v":-0.03},{"r":"DLNSUO","c":"DLNESP","lag":3,"v":-0.04},{"r":"DLNSUO","c":"DLNESP","lag":4,"v":0.01},{"r":"DLNSUO","c":"DLNESP","lag":5,"v":-0.14},{"r":"DLNSUO","c":"DLNESP","lag":6,"v":-0.03},{"r":"DLNSUO","c":"DLNESP","lag":7,"v":0.05},{"r":"DLNSUO","c":"DLNESP","lag":8,"v":0.06},{"r":"DLNSUO","c":"DLNESP","lag":9,"v":0.06},{"r":"DLNSUO","c":"DLNESP","lag":10,"v":0.01},{"r":"DLNSUO","c":"DLNESP","lag":11,"v":0.2},{"r":"DLNSUO","c":"DLNESP","lag":12,"v":0.01},{"r":"DLNSUO","c":"DLNESP","lag":13,"v":0.03},{"r":"DLNSUO","c":"DLNESP","lag":14,"v":-0.01},{"r":"DLNSUO","c":"DLNESP","lag":15,"v":0.02},{"r":"DLNSUO","c":"DLNESP","lag":16,"v":-0.1},{"r":"DLNSUO","c":"DLNESP","lag":17,"v":-0.18},{"r":"DLNSUO","c":"DLNESP","lag":18,"v":0.02},{"r":"DLNSUO","c":"DLNESP","lag":19,"v":0.12},{"r":"DLNSUO","c":"DLNESP","lag":20,"v":-0.13},
{"r":"DLNSUO","c":"DLNITA","lag":1,"v":0.08},{"r":"DLNSUO","c":"DLNITA","lag":2,"v":-0.01},{"r":"DLNSUO","c":"DLNITA","lag":3,"v":0.07},{"r":"DLNSUO","c":"DLNITA","lag":4,"v":0.03},{"r":"DLNSUO","c":"DLNITA","lag":5,"v":0.01},{"r":"DLNSUO","c":"DLNITA","lag":6,"v":0.07},{"r":"DLNSUO","c":"DLNITA","lag":7,"v":0.03},{"r":"DLNSUO","c":"DLNITA","lag":8,"v":-0.09},{"r":"DLNSUO","c":"DLNITA","lag":9,"v":-0.08},{"r":"DLNSUO","c":"DLNITA","lag":10,"v":-0.13},{"r":"DLNSUO","c":"DLNITA","lag":11,"v":0.13},{"r":"DLNSUO","c":"DLNITA","lag":12,"v":0.01},{"r":"DLNSUO","c":"DLNITA","lag":13,"v":-0.05},{"r":"DLNSUO","c":"DLNITA","lag":14,"v":0.05},{"r":"DLNSUO","c":"DLNITA","lag":15,"v":0.02},{"r":"DLNSUO","c":"DLNITA","lag":16,"v":0.01},{"r":"DLNSUO","c":"DLNITA","lag":17,"v":0.02},{"r":"DLNSUO","c":"DLNITA","lag":18,"v":-0.1},{"r":"DLNSUO","c":"DLNITA","lag":19,"v":0.07},{"r":"DLNSUO","c":"DLNITA","lag":20,"v":0.11},
{"r":"DLNSUO","c":"DLNHOL","lag":1,"v":0.01},{"r":"DLNSUO","c":"DLNHOL","lag":2,"v":0.08},{"r":"DLNSUO","c":"DLNHOL","lag":3,"v":0.01},{"r":"DLNSUO","c":"DLNHOL","lag":4,"v":-0.14},{"r":"DLNSUO","c":"DLNHOL","lag":5,"v":-0.03},{"r":"DLNSUO","c":"DLNHOL","lag":6,"v":0.06},{"r":"DLNSUO","c":"DLNHOL","lag":7,"v":-0.13},{"r":"DLNSUO","c":"DLNHOL","lag":8,"v":0.04},{"r":"DLNSUO","c":"DLNHOL","lag":9,"v":-0.19},{"r":"DLNSUO","c":"DLNHOL","lag":10,"v":0.05},{"r":"DLNSUO","c":"DLNHOL","lag":11,"v":0.13},{"r":"DLNSUO","c":"DLNHOL","lag":12,"v":-0.01},{"r":"DLNSUO","c":"DLNHOL","lag":13,"v":0.1},{"r":"DLNSUO","c":"DLNHOL","lag":14,"v":-0.03},{"r":"DLNSUO","c":"DLNHOL","lag":15,"v":0.19},{"r":"DLNSUO","c":"DLNHOL","lag":16,"v":0.07},{"r":"DLNSUO","c":"DLNHOL","lag":17,"v":-0.11},{"r":"DLNSUO","c":"DLNHOL","lag":18,"v":0.02},{"r":"DLNSUO","c":"DLNHOL","lag":19,"v":0.19},{"r":"DLNSUO","c":"DLNHOL","lag":20,"v":-0.25},
{"r":"DLNSUO","c":"DLNRAN","lag":1,"v":0.08},{"r":"DLNSUO","c":"DLNRAN","lag":2,"v":0.02},{"r":"DLNSUO","c":"DLNRAN","lag":3,"v":0.07},{"r":"DLNSUO","c":"DLNRAN","lag":4,"v":-0.15},{"r":"DLNSUO","c":"DLNRAN","lag":5,"v":-0.05},{"r":"DLNSUO","c":"DLNRAN","lag":6,"v":-0.14},{"r":"DLNSUO","c":"DLNRAN","lag":7,"v":-0.03},{"r":"DLNSUO","c":"DLNRAN","lag":8,"v":-0.14},{"r":"DLNSUO","c":"DLNRAN","lag":9,"v":-0.12},{"r":"DLNSUO","c":"DLNRAN","lag":10,"v":0.15},{"r":"DLNSUO","c":"DLNRAN","lag":11,"v":0.18},{"r":"DLNSUO","c":"DLNRAN","lag":12,"v":0.12},{"r":"DLNSUO","c":"DLNRAN","lag":13,"v":0.19},{"r":"DLNSUO","c":"DLNRAN","lag":14,"v":-0.05},{"r":"DLNSUO","c":"DLNRAN","lag":15,"v":0.03},{"r":"DLNSUO","c":"DLNRAN","lag":16,"v":0.01},{"r":"DLNSUO","c":"DLNRAN","lag":17,"v":-0.02},{"r":"DLNSUO","c":"DLNRAN","lag":18,"v":-0.18},{"r":"DLNSUO","c":"DLNRAN","lag":19,"v":-0.1},{"r":"DLNSUO","c":"DLNRAN","lag":20,"v":0.06},
{"r":"DLNSUO","c":"DLNSAK","lag":1,"v":0.06},{"r":"DLNSUO","c":"DLNSAK","lag":2,"v":0.13},{"r":"DLNSUO","c":"DLNSAK","lag":3,"v":-0.22},{"r":"DLNSUO","c":"DLNSAK","lag":4,"v":0.06},{"r":"DLNSUO","c":"DLNSAK","lag":5,"v":-0.03},{"r":"DLNSUO","c":"DLNSAK","lag":6,"v":-0.22},{"r":"DLNSUO","c":"DLNSAK","lag":7,"v":-0.09},{"r":"DLNSUO","c":"DLNSAK","lag":8,"v":0.01},{"r":"DLNSUO","c":"DLNSAK","lag":9,"v":-0.25},{"r":"DLNSUO","c":"DLNSAK","lag":10,"v":0.19},{"r":"DLNSUO","c":"DLNSAK","lag":11,"v":0.1},{"r":"DLNSUO","c":"DLNSAK","lag":12,"v":-0.05},{"r":"DLNSUO","c":"DLNSAK","lag":13,"v":0.19},{"r":"DLNSUO","c":"DLNSAK","lag":14,"v":0.1},{"r":"DLNSUO","c":"DLNSAK","lag":15,"v":0.04},{"r":"DLNSUO","c":"DLNSAK","lag":16,"v":0.05},{"r":"DLNSUO","c":"DLNSAK","lag":17,"v":0.1},{"r":"DLNSUO","c":"DLNSAK","lag":18,"v":-0.13},{"r":"DLNSUO","c":"DLNSAK","lag":19,"v":0.01},{"r":"DLNSUO","c":"DLNSAK","lag":20,"v":0.03},
{"r":"DLNSAK","c":"DLNESP","lo":7.53,"hi":8.47},{"r":"DLNSAK","c":"DLNESP","lo":11.53,"hi":12.47},
{"r":"DLNSAK","c":"DLNHOL","lo":9.53,"hi":11.47},
{"r":"DLNSAK","c":"DLNSAK","lo":3.53,"hi":4.47},
{"r":"DLNRAN","c":"DLNSUO","lo":14.53,"hi":15.47},
{"r":"DLNRAN","c":"DLNESP","lo":2.53,"hi":3.47},
{"r":"DLNRAN","c":"DLNITA","lo":3.53,"hi":4.47},
{"r":"DLNRAN","c":"DLNHOL","lo":1.53,"hi":2.47},
{"r":"DLNRAN","c":"DLNRAN","lo":5.53,"hi":6.47},{"r":"DLNRAN","c":"DLNRAN","lo":6.53,"hi":7.47},{"r":"DLNRAN","c":"DLNRAN","lo":7.53,"hi":8.47},{"r":"DLNRAN","c":"DLNRAN","lo":14.53,"hi":15.47},
{"r":"DLNHOL","c":"DLNHOL","lo":10.53,"hi":11.47},
{"r":"DLNHOL","c":"DLNRAN","lo":4.53,"hi":5.47},{"r":"DLNHOL","c":"DLNRAN","lo":7.53,"hi":8.47},
{"r":"DLNITA","c":"DLNITA","lo":11.53,"hi":12.47},
{"r":"DLNITA","c":"DLNRAN","lo":7.53,"hi":8.47},
{"r":"DLNITA","c":"DLNSAK","lo":5.53,"hi":6.47},
{"r":"DLNESP","c":"DLNSUO","lo":11.53,"hi":12.47},
{"r":"DLNESP","c":"DLNESP","lo":1.53,"hi":2.47},{"r":"DLNESP","c":"DLNESP","lo":4.53,"hi":6.47},
{"r":"DLNSUO","c":"DLNSAK","lo":2.53,"hi":3.47},{"r":"DLNSUO","c":"DLNSAK","lo":5.53,"hi":6.47},{"r":"DLNSUO","c":"DLNSAK","lo":8.53,"hi":9.47}
]},
"facet": {
  "row": {"field": "r", "type": "nominal", "sort": ["DLNSAK","DLNRAN","DLNHOL","DLNITA","DLNESP","DLNSUO"], "title": null,
    "header": {"labelOrient": "right", "labelAngle": 90, "labelAlign": "center", "labelBaseline": "alphabetic", "labelFont": "Liberation Sans", "labelFontSize": 25, "labelColor": "black", "labelPadding": -11}},
  "column": {"field": "c", "type": "nominal", "sort": ["DLNSUO","DLNESP","DLNITA","DLNHOL","DLNRAN","DLNSAK"], "title": null,
    "header": {"labelOrient": "top", "labelAngle": 90, "labelAlign": "left", "labelBaseline": "bottom", "labelFont": "Liberation Sans", "labelFontSize": 25, "labelColor": "black", "labelPadding": 10,
      "labelExpr": "datum.value == 'DLNITA' ? 'DLNITA\u00a0\u00a0' : datum.value == 'DLNSAK' || datum.value == 'DLNESP' ? datum.value + '\u00a0' : datum.value"}}
},
"spacing": {"row": 22, "column": 10},
"spec": {
  "width": 137,
  "height": 239,
  "layer": [
    {"transform": [{"filter": {"field": "lo", "valid": true}}],
     "mark": {"type": "rect", "fill": "white", "stroke": "black", "strokeWidth": 1.2},
     "encoding": {
       "x": {"value": 0}, "x2": {"value": "width"},
       "y": {"field": "lo", "type": "quantitative", "scale": {"domain": [-0.5, 21.5], "reverse": true, "nice": false, "zero": false}, "axis": null},
       "y2": {"field": "hi"}}},
    {"transform": [{"filter": "datum.lag === 1"}],
     "mark": {"type": "rule", "color": "black", "strokeWidth": 1.2},
     "encoding": {"x": {"datum": 0, "type": "quantitative", "scale": {"domain": [-1, 1], "nice": false}, "axis": null}}},
    {"transform": [{"filter": {"field": "lag", "valid": true}}],
     "mark": {"type": "bar", "orient": "horizontal", "height": 7, "color": "black"},
     "encoding": {
       "x": {"field": "v", "type": "quantitative", "scale": {"domain": [-1, 1], "nice": false}, "axis": null},
       "y": {"field": "lag", "type": "quantitative", "scale": {"domain": [-0.5, 21.5], "reverse": true, "nice": false, "zero": false}, "axis": null}}}
  ]
},
"config": {"view": {"stroke": "black", "strokeWidth": 1.3}}
}
